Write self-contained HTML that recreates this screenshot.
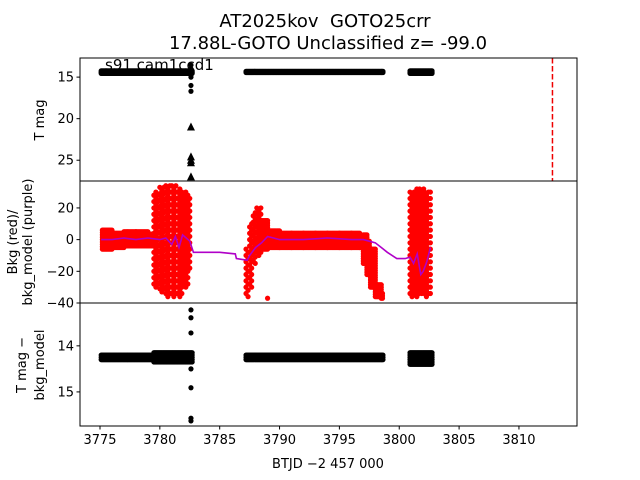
<!DOCTYPE html>
<html><head><meta charset="utf-8"><style>
body{margin:0;background:#fff;}
svg{display:block;font-family:"DejaVu Sans","Liberation Sans",sans-serif;}
</style></head><body>
<svg id="c" width="640" height="480" viewBox="0 0 640 480">
<text x="325" y="27" font-size="18" text-anchor="middle" style="white-space:pre">AT2025kov  GOTO25crr</text>
<text x="328" y="49" font-size="18" text-anchor="middle">17.88L-GOTO Unclassified z= -99.0</text>
<g id="p1"></g>
<g id="p2"></g>
<g id="p3"></g>
<text x="105" y="70" font-size="15">s91 cam1ccd1</text>
<text transform="translate(44,120) rotate(-90)" font-size="13" text-anchor="middle">T mag</text>
<text transform="translate(17,242) rotate(-90)" font-size="13" text-anchor="middle">Bkg (red)/</text>
<text transform="translate(32,242) rotate(-90)" font-size="13" text-anchor="middle">bkg_model (purple)</text>
<text transform="translate(26,365) rotate(-90)" font-size="13" text-anchor="middle">T mag −</text>
<text transform="translate(44,365) rotate(-90)" font-size="13" text-anchor="middle">bkg_model</text>
<text x="328" y="468" font-size="13" text-anchor="middle">BTJD −2 457 000</text>
</svg>
<script>
// ---- data ----
const xTicks=[3775,3780,3785,3790,3795,3800,3805,3810];
const p1Ticks=[15,20,25];
const p2Ticks=[20,0,-20,-40];
const p3Ticks=[14,15];
// panel1 black band segments (start,end pairs)
const magT=[3775.1,3782.7,3787.2,3798.7,3800.9,3802.8];
const magLo=[14.25,14.25,14.3,14.3,14.25,14.25];
const magHi=[14.55,14.55,14.5,14.5,14.55,14.55];
const magOutT=[3782.6,3782.6,3782.6,3782.6,3782.6];
const magOutV=[13.55,14.0,15.0,16.0,16.7];
const limT=[3782.6,3782.6,3782.6,3782.6,3782.6];
const limV=[21.0,24.6,25.0,25.3,27.0];
const eventT=3812.8;
// panel2 background (red) ranges
const redT=[3775.2,3776,3777,3778,3779,3779.5,3780,3780.5,3781,3781.5,3782,3782.5,3787.2,3787.5,3787.8,3788.1,3788.5,3789,3790,3791,3792,3793,3794,3795,3796,3796.7,3797,3797.3,3797.6,3798,3798.5,3800.9,3801.3,3801.7,3802.1,3802.6];
const redLo=[-6,-5,-4,-4,-4,-30,-33,-36,-36,-36,-30,-20,-36,-30,-15,-10,-6,-5,-5,-5,-5,-5,-5,-5,-5,-5,-15,-22,-30,-36,-37,-36,-36,-34,-36,-36];
const redHi=[6,5,6,5,4,30,33,34,34,32,30,28,-5,10,18,20,12,6,5,5,5,5,5,5,5,3,3,0,-5,-28,-34,30,33,33,30,30];
const redOutT=[3789.0];
const redOutV=[-37];
// model (purple)
const modT=[3775.1,3776,3777,3778,3779,3780,3780.5,3781,3781.3,3781.6,3781.9,3782.2,3782.5,3782.8,3784,3785,3786.3,3786.4,3787.3,3787.5,3788,3788.5,3789,3789.5,3790,3792,3794,3796,3797,3797.5,3798,3798.5,3799,3799.8,3800.5,3800.9,3801.2,3801.5,3801.8,3802,3802.3,3802.6];
const modV=[0,0,1,0,1,0,1,-3,2,-5,3,1,-1,-8,-8,-8,-9,-12,-13,-10,-5,-2,2,1,0,0,1,0,0,-1,-2,-5,-8,-12,-12,-11,-15,-9,-22,-20,-14,-5];
// panel3 diff mag (start,end pairs)
const difT=[3775.1,3779.5,3779.5,3782.7,3787.2,3798.7,3800.9,3802.8];
const difLo=[14.2,14.2,14.15,14.15,14.2,14.2,14.15,14.15];
const difHi=[14.33,14.33,14.38,14.38,14.33,14.33,14.4,14.4];
const difOutT=[3782.6,3782.6,3782.6,3782.6,3782.6,3782.6,3782.6];
const difOutV=[13.22,13.39,13.72,14.5,14.91,15.57,15.63];

// ---- axes ----
const L=80,R=577;
const X0=3773.33,X1=3814.85;
const sx=t=>L+(t-X0)/(X1-X0)*(R-L);
const P1={top:58,bot:181,y0:12.7,y1:27.5};
const P2={top:181,bot:303,y0:37,y1:-40};
const P3={top:303,bot:426,y0:13.07,y1:15.74};
const sy=(P,v)=>P.top+(v-P.y0)/(P.y1-P.y0)*(P.bot-P.top);
const NS="http://www.w3.org/2000/svg";
function mk(tag,attrs,parent){const e=document.createElementNS(NS,tag);for(const k in attrs)e.setAttribute(k,attrs[k]);parent.appendChild(e);return e;}
const g1=document.getElementById('p1'),g2=document.getElementById('p2'),g3=document.getElementById('p3');

function dot(g,x,y,r,c,name){const e=mk('circle',{cx:x,cy:y,r:r,fill:c},g);

}

// panel1 band
for(let i=0;i<magT.length;i+=2){
  for(let t=magT[i];t<=magT[i+1];t+=0.08){
    for(let v=magLo[i];v<=magHi[i]+1e-6;v+=0.15) dot(g1,sx(t),sy(P1,v),2.6,'#000','mag-point');
  }
}
magOutT.forEach((t,i)=>dot(g1,sx(t),sy(P1,magOutV[i]),2.6,'#000','mag-outlier'));
limT.forEach((t,i)=>{const x=sx(t),y=sy(P1,limV[i]);const p=mk('path',{d:`M${x-4},${y+3.5}L${x+4},${y+3.5}L${x},${y-4.5}Z`,fill:'#000'},g1);

});
const ev=mk('line',{x1:sx(eventT),x2:sx(eventT),y1:P1.top,y2:P1.bot,stroke:'#e00',"stroke-width":1.5,"stroke-dasharray":"5.5,2.5"},g1);



// panel2 red
for(let i=0;i<redT.length;i++){
  const tEnd=(i+1<redT.length&&redT[i+1]-redT[i]<1.5)?redT[i+1]:redT[i]+0.15;
  const big=(redHi[i]-redLo[i])>25;
  let k=0;
  for(let t=redT[i];t<tEnd;t+=big?0.17:0.1){
    k++;
    const off=big?(k%2)*2:0;
    for(let v=redLo[i]+off;v<=redHi[i]+1e-6;v+=big?4:1.5) dot(g2,sx(t),sy(P2,v),2.6,'#f00','bkg-point');
  }
}
redOutT.forEach((t,i)=>dot(g2,sx(t),sy(P2,redOutV[i]),2.6,'#f00','bkg-outlier'));
let d='';modT.forEach((t,i)=>{d+=(i?'L':'M')+sx(t).toFixed(1)+','+sy(P2,modV[i]).toFixed(1);});
const ml=mk('path',{d:d,fill:'none',stroke:'#b000c8',"stroke-width":1.6},g2);



// panel3
for(let i=0;i<difT.length;i+=2){
  for(let t=difT[i];t<=difT[i+1];t+=0.08){
    for(let v=difLo[i];v<=difHi[i]+1e-6;v+=0.05) dot(g3,sx(t),sy(P3,v),2.6,'#000','diff-point');
  }
}
difOutT.forEach((t,i)=>dot(g3,sx(t),sy(P3,difOutV[i]),2.6,'#000','diff-outlier'));

// frames & ticks
function frame(g,P,ticks,name){
  const r=mk('rect',{x:L,y:P.top,width:R-L,height:P.bot-P.top,fill:'none',stroke:'#000',"stroke-width":1},g);
  
  
  ticks.forEach(v=>{const y=sy(P,v);
    mk('line',{x1:L-3.5,x2:L,y1:y,y2:y,stroke:'#000'},g);
    const t=mk('text',{x:L-6,y:y+4.5,"font-size":13,"text-anchor":"end"},g);t.textContent=(v<0?'−'+(-v):v);
    
    });
}
frame(g1,P1,p1Ticks,'mag-panel');frame(g2,P2,p2Ticks,'bkg-panel');frame(g3,P3,p3Ticks,'diff-panel');
xTicks.forEach(v=>{const x=sx(v);
  mk('line',{x1:x,x2:x,y1:P3.bot,y2:P3.bot+3.5,stroke:'#000'},g3);
  const t=mk('text',{x:x,y:P3.bot+18,"font-size":13,"text-anchor":"middle"},g3);t.textContent=v;
  
  });
</script>
</body></html>
